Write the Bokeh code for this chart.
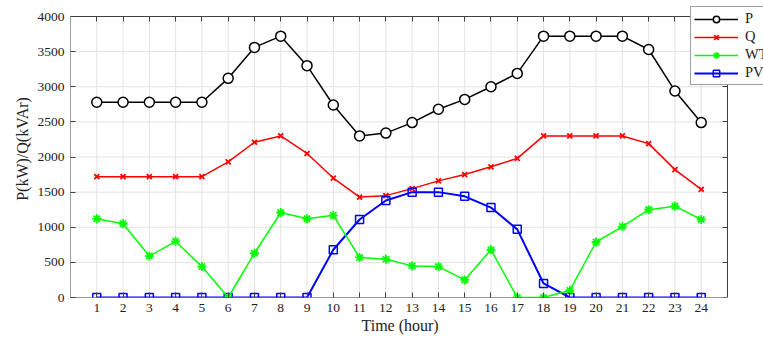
from bokeh.plotting import figure
from bokeh.models import (LinearAxis, FixedTicker, Legend, LegendItem, Range1d,
                          CustomJSTickFormatter, BoxAnnotation, Title)
from bokeh.embed import file_html
from bokeh.resources import INLINE

hours = list(range(1, 25))
P = [2780, 2780, 2780, 2780, 2780, 3120, 3560, 3720, 3300, 2740, 2300, 2340,
     2490, 2680, 2820, 3000, 3190, 3720, 3720, 3720, 3720, 3530, 2940, 2490]
Q = [1720, 1720, 1720, 1720, 1720, 1930, 2210, 2300, 2050, 1700, 1430, 1450,
     1550, 1660, 1750, 1860, 1980, 2300, 2300, 2300, 2300, 2190, 1820, 1540]
WT = [1120, 1050, 590, 800, 440, 0, 630, 1210, 1120, 1170, 570, 545,
      450, 440, 250, 680, 0, 0, 100, 790, 1010, 1250, 1300, 1110]
PV = [0, 0, 0, 0, 0, 0, 0, 0, 0, 680, 1110, 1380,
      1500, 1500, 1440, 1280, 970, 200, 0, 0, 0, 0, 0, 0]
y_ticks = [0, 500, 1000, 1500, 2000, 2500, 3000, 3500, 4000]
x_lim = [0, 25]
y_lim = [0, 4000]

FONT = "Liberation Serif"
AX = "#404040"
GRID = "#e3e3e3"

# the plot box is 657 x 281 px; the canvas frame is widened to 693 x 297 px
# so that the legend can hang over the box's top-right corner
x_end = x_lim[1] * 693.0 / 657.0
y_end = y_lim[1] * 297.0 / 281.0

p = figure(width=763, height=338, output_backend="svg", toolbar_location=None,
           x_range=Range1d(x_lim[0], x_end), y_range=Range1d(y_lim[0], y_end),
           min_border_left=70, min_border_right=0, min_border_top=0,
           min_border_bottom=41)
p.background_fill_color = "white"
p.border_fill_color = "white"
p.outline_line_color = None
p.grid.visible = False

for ax in p.xaxis + p.yaxis:
    ax.major_label_text_font = FONT
    ax.major_label_text_font_size = "13.5px"
    ax.major_label_text_color = "#222222"
    ax.axis_label_text_font = FONT
    ax.axis_label_text_font_size = "16px"
    ax.axis_label_text_font_style = "normal"
    ax.axis_label_text_color = "#222222"
    ax.axis_line_color = None
    ax.major_tick_in = 5
    ax.major_tick_out = 0
    ax.major_tick_line_color = AX
    ax.minor_tick_line_color = None
    ax.major_label_standoff = 6
    ax.axis_label_standoff = 4

p.xaxis.ticker = FixedTicker(ticks=hours)
p.yaxis.ticker = FixedTicker(ticks=y_ticks)
p.xaxis.bounds = (x_lim[0], x_lim[1])
p.yaxis.bounds = (y_lim[0], y_lim[1])
p.yaxis.axis_label = "P(kW)/Q(kVAr)"

# x-axis title, centred under the plot box rather than the widened frame
xtitle = Title(text="Time (hour)", align="left", offset=291, standoff=0,
               text_font=FONT, text_font_size="16px", text_font_style="normal",
               text_color="#222222")
p.add_layout(xtitle, "below")

# grid lines limited to the plot box
p.segment(x0=hours, y0=[y_lim[0]] * len(hours), x1=hours, y1=[y_lim[1]] * len(hours),
          line_color=GRID, line_width=1, level="underlay")
p.segment(x0=[x_lim[0]] * len(y_ticks), y0=y_ticks, x1=[x_lim[1]] * len(y_ticks),
          y1=y_ticks, line_color=GRID, line_width=1, level="underlay")

blank = CustomJSTickFormatter(code="return ''")
top = LinearAxis(ticker=FixedTicker(ticks=hours), formatter=blank,
                 fixed_location=y_lim[1], bounds=(x_lim[0], x_lim[1]),
                 axis_line_color=None, major_tick_in=5, major_tick_out=0,
                 major_tick_line_color=AX, minor_tick_line_color=None,
                 major_label_standoff=0)
right = LinearAxis(ticker=FixedTicker(ticks=y_ticks), formatter=blank,
                   fixed_location=x_lim[1], bounds=(y_lim[0], y_lim[1]),
                   axis_line_color=None, major_tick_in=5, major_tick_out=0,
                   major_tick_line_color=AX, minor_tick_line_color=None,
                   major_label_standoff=0)
p.add_layout(top, "above")
p.add_layout(right, "right")

lP = p.line(hours, P, line_color="black", line_width=1.5)
mP = p.scatter(hours, P, marker="circle", size=10, line_color="black",
               fill_color="white", line_width=1.5)
lQ = p.line(hours, Q, line_color="#ff0000", line_width=1.5)
mQ = p.scatter(hours, Q, marker="x", size=7, line_color="#ff0000", line_width=1.8)
lPV = p.line(hours, PV, line_color="#0000ff", line_width=2)
mPV = p.scatter(hours, PV, marker="square", size=8, line_color="#0000ff",
                fill_color=None, line_width=1.5)
lW = p.line(hours, WT, line_color="#00ff00", line_width=1.5)
mW = p.scatter(hours, WT, marker="asterisk", size=9, line_color="#00ff00", line_width=1.8)

box = BoxAnnotation(left=x_lim[0], right=x_lim[1], bottom=y_lim[0], top=y_lim[1],
                    fill_alpha=0, line_color=AX, line_width=1, line_alpha=1)
p.add_layout(box)

legend = Legend(items=[LegendItem(label="P", renderers=[lP, mP]),
                       LegendItem(label="Q", renderers=[lQ, mQ]),
                       LegendItem(label="WT", renderers=[lW, mW]),
                       LegendItem(label="PV", renderers=[lPV, mPV])],
                location=(620, 212), level="overlay")
legend.label_text_font = FONT
legend.label_text_font_size = "14.5px"
legend.label_text_color = "#222222"
legend.glyph_width = 44
legend.glyph_height = 16
legend.spacing = 1
legend.padding = 3
legend.margin = 0
legend.label_standoff = 7
legend.border_line_color = AX
legend.border_line_width = 1
legend.background_fill_color = "white"
legend.background_fill_alpha = 1
p.add_layout(legend, "center")

open("out.html", "w").write(file_html(p, INLINE))
